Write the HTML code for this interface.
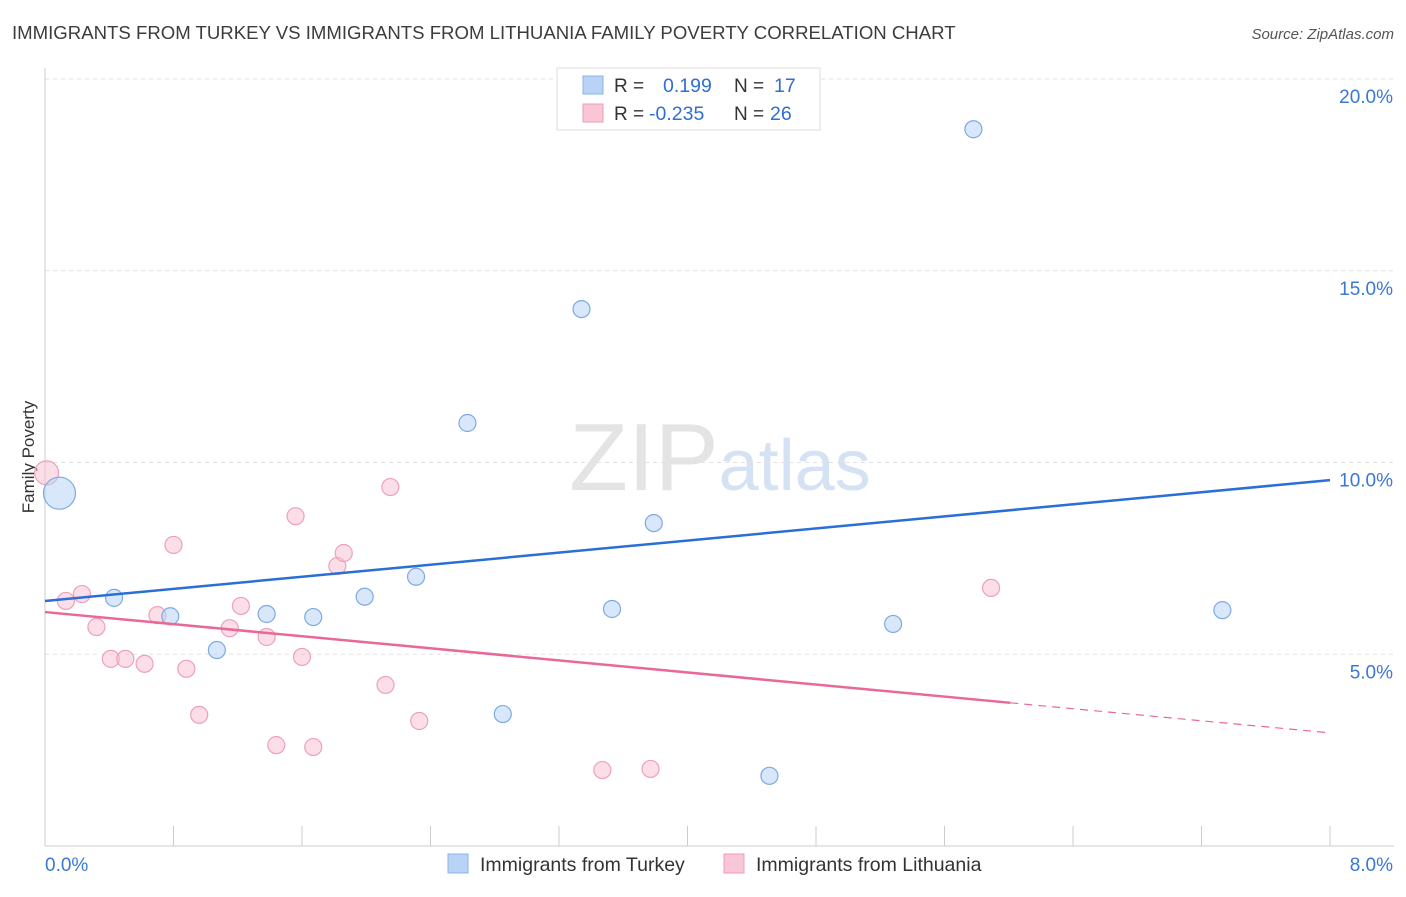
<!DOCTYPE html>
<html><head><meta charset="utf-8"><style>
body{margin:0;background:#fff;font-family:"Liberation Sans",sans-serif;}
svg text{font-family:"Liberation Sans",sans-serif;}
</style></head><body>
<svg id="chart" width="1406" height="892" xmlns="http://www.w3.org/2000/svg">
<text x="12" y="39" font-size="18.6" fill="#3c3c3c">IMMIGRANTS FROM TURKEY VS IMMIGRANTS FROM LITHUANIA FAMILY POVERTY CORRELATION CHART</text>
<text x="1394" y="39" font-size="15" fill="#555" text-anchor="end" font-style="italic">Source: ZipAtlas.com</text>
<text x="720" y="490" font-size="96" text-anchor="middle" fill="#e4e4e4" font-family="Liberation Serif">ZIP<tspan fill="#d4e2f4" font-family="Liberation Sans" font-size="72">atlas</tspan></text>
<g id="grid"></g>
<g id="axes"></g>
<text transform="translate(34,457) rotate(-90)" font-size="17" fill="#333" text-anchor="middle">Family Poverty</text>
<g id="marks"></g>
<g>
<rect x="557" y="68" width="263" height="62" fill="#fff" stroke="#ddd"/>
<rect x="583" y="76" width="20" height="18" fill="#b8d3f5" stroke="#8ab3e6"/>
<text x="614" y="92" font-size="19" fill="#333">R =</text><text x="663" y="92" font-size="19.5" fill="#2f6fcf">0.199</text>
<text x="734" y="92" font-size="19" fill="#333">N =</text><text x="774" y="92" font-size="19.5" fill="#2f6fcf">17</text>
<rect x="583" y="104" width="20" height="18" fill="#f9c6d6" stroke="#ee9cb6"/>
<text x="614" y="120" font-size="19" fill="#333">R =</text><text x="649" y="120" font-size="19.5" fill="#2f6fcf">-0.235</text>
<text x="734" y="120" font-size="19" fill="#333">N =</text><text x="770" y="120" font-size="19.5" fill="#2f6fcf">26</text>
</g>
<g>
<rect x="448" y="854" width="20" height="19" fill="#b8d3f5" stroke="#8ab3e6"/>
<text x="480" y="871" font-size="19.5" fill="#333">Immigrants from Turkey</text>
<rect x="724" y="854" width="20" height="19" fill="#f9c6d6" stroke="#ee9cb6"/>
<text x="756" y="871" font-size="19.5" fill="#333">Immigrants from Lithuania</text>
</g>
</svg>
<script>
const turkeyX=[0.09,0.43,0.78,1.07,1.38,1.67,1.99,2.31,2.63,2.85,3.34,3.53,3.79,4.51,5.28,5.78,7.33];
const turkeyY=[9.20,6.47,5.99,5.11,6.05,5.97,6.50,7.02,11.03,3.44,14.00,6.18,8.42,1.83,5.79,18.69,6.15];
const lithX=[0.01,0.13,0.23,0.32,0.41,0.50,0.62,0.70,0.80,0.88,0.96,1.15,1.22,1.38,1.44,1.56,1.60,1.67,1.82,1.86,2.12,2.15,2.33,3.47,3.77,5.89];
const lithY=[9.73,6.39,6.57,5.71,4.88,4.88,4.75,6.02,7.85,4.62,3.42,5.68,6.26,5.45,2.63,8.60,4.93,2.58,7.30,7.64,4.20,9.36,3.26,1.98,2.01,6.73];
const yTicks=[5,10,15,20];
const yTickLabels=["5.0%","10.0%","15.0%","20.0%"];
const xTickLabels=["0.0%","8.0%"];
const trendTurkey=[6.39,9.54];
const trendLith=[6.10,2.95];
const lithSolidEnd=6.01;
const NS="http://www.w3.org/2000/svg";
const xs=v=>45+v*160.625, ys=v=>846-v*38.35;
function mk(tag,attrs,parent){const e=document.createElementNS(NS,tag);for(const k in attrs)e.setAttribute(k,attrs[k]);document.getElementById(parent).appendChild(e);return e;}
yTicks.forEach((t,i)=>{
 const l=mk('line',{x1:45,x2:1394,y1:ys(t),y2:ys(t),stroke:'#e2e2e2','stroke-dasharray':'4,4'},'grid');
 
 
 const tx=mk('text',{x:1393,y:ys(t)+24,'font-size':19,fill:'#3a78d4','text-anchor':'end'},'axes');
 tx.textContent=yTickLabels[i];
 
 
});
const yAxisLine=mk('line',{x1:45,x2:45,y1:68,y2:846,stroke:'#ccc'},'axes');


const xAxisLine=mk('line',{x1:45,x2:1394,y1:846,y2:846,stroke:'#ccc'},'axes');


for(let i=0;i<=10;i++){
 const t=mk('line',{x1:xs(i*0.8),x2:xs(i*0.8),y1:826,y2:846,stroke:'#ccc'},'axes');
 
 
}
[[0,'start',45],[8,'end',1393]].forEach((d,i)=>{
 const t=mk('text',{x:d[2],y:871,'font-size':19,fill:'#3a78d4','text-anchor':d[1]},'axes');
 t.textContent=xTickLabels[i];
 
 
});
lithX.forEach((x,i)=>{
 const c=mk('circle',{cx:xs(x),cy:ys(lithY[i]),r:i===0?12:8.5,fill:'rgba(249,190,210,0.5)',stroke:'#eea0ba','stroke-width':1.2},'marks');
 
 
});
turkeyX.forEach((x,i)=>{
 const c=mk('circle',{cx:xs(x),cy:ys(turkeyY[i]),r:i===0?16:8.5,fill:'rgba(184,211,245,0.55)',stroke:'#7eaae3','stroke-width':1.2},'marks');
 
 
});
const tl=mk('line',{x1:xs(0),y1:ys(trendTurkey[0]),x2:xs(8),y2:ys(trendTurkey[1]),stroke:'#2a6fd6','stroke-width':2.5},'marks');


const ly=x=>trendLith[0]+(trendLith[1]-trendLith[0])*x/8;
const pl=mk('line',{x1:xs(0),y1:ys(ly(0)),x2:xs(lithSolidEnd),y2:ys(ly(lithSolidEnd)),stroke:'#e8689a','stroke-width':2.5},'marks');


const pd=mk('line',{x1:xs(lithSolidEnd),y1:ys(ly(lithSolidEnd)),x2:xs(8),y2:ys(ly(8)),stroke:'#e8689a','stroke-width':1.2,'stroke-dasharray':'8,6'},'marks');


</script>
</body></html>
